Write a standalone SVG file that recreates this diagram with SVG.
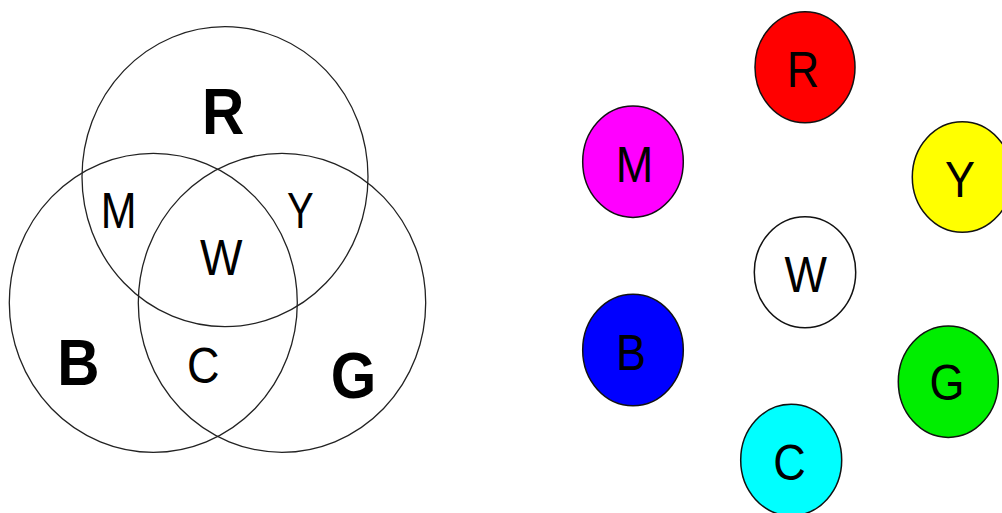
<svg xmlns="http://www.w3.org/2000/svg" width="1002" height="513" viewBox="0 0 1002 513">
<style>
.venn{fill:none;stroke:#222;stroke-width:1.3}
.dot{stroke:#111;stroke-width:1.5}
.big{font-family:"Liberation Sans",Arial,sans-serif;font-weight:bold;font-size:65px;fill:#000;text-anchor:middle}
.lbl{font-family:"Liberation Sans",Arial,sans-serif;font-size:50px;fill:#000;text-anchor:middle}
</style>
<rect width="1002" height="513" fill="#fff"/>
<g id="venn">
<g id="venn-R"><ellipse class="venn" cx="225" cy="176.7" rx="143" ry="150"/></g>
<g id="venn-B"><ellipse class="venn" cx="153.3" cy="302.8" rx="144" ry="149.5"/></g>
<g id="venn-G"><ellipse class="venn" cx="282" cy="302.8" rx="143.7" ry="149.5"/></g>
<text class="big" transform="translate(223,134) scale(0.9,1)">R</text>
<text class="big" transform="translate(78.3,385) scale(0.9,1)">B</text>
<text class="big" transform="translate(353.5,398) scale(0.9,1)">G</text>
<text class="lbl" transform="translate(118.7,228) scale(0.86,1)">M</text>
<text class="lbl" transform="translate(300.3,228) scale(0.8,1)">Y</text>
<text class="lbl" transform="translate(221.3,275) scale(0.9,1)">W</text>
<text class="lbl" transform="translate(203.3,383) scale(0.9,1)" font-size="44">C</text>
</g>
<g id="node-R"><ellipse class="dot" cx="805" cy="67.2" rx="50" ry="55.5" fill="#ff0000"/><text class="lbl" transform="translate(803,87) scale(0.9,1)">R</text></g>
<g id="node-M"><ellipse class="dot" cx="633" cy="161.7" rx="50.3" ry="55.7" fill="#ff00ff"/><text class="lbl" transform="translate(634.5,182) scale(0.9,1)">M</text></g>
<g id="node-Y"><ellipse class="dot" cx="962.3" cy="177" rx="50" ry="55.3" fill="#ffff00"/><text class="lbl" transform="translate(960,196.7) scale(0.9,1)">Y</text></g>
<g id="node-W"><ellipse class="dot" cx="805" cy="272.2" rx="50.7" ry="55.5" fill="#ffffff"/><text class="lbl" transform="translate(805.8,291.7) scale(0.9,1)">W</text></g>
<g id="node-B"><ellipse class="dot" cx="633" cy="350" rx="50.3" ry="55.7" fill="#0000ff"/><text class="lbl" transform="translate(631,370) scale(0.9,1)">B</text></g>
<g id="node-G"><ellipse class="dot" cx="948.3" cy="381.7" rx="50" ry="55.7" fill="#00ee00"/><text class="lbl" transform="translate(947,400) scale(0.9,1)">G</text></g>
<g id="node-C"><ellipse class="dot" cx="791.2" cy="460" rx="50.5" ry="55.7" fill="#00ffff"/><text class="lbl" transform="translate(789.5,480) scale(0.9,1)">C</text></g>
<g id="connectors"></g>
</svg>
